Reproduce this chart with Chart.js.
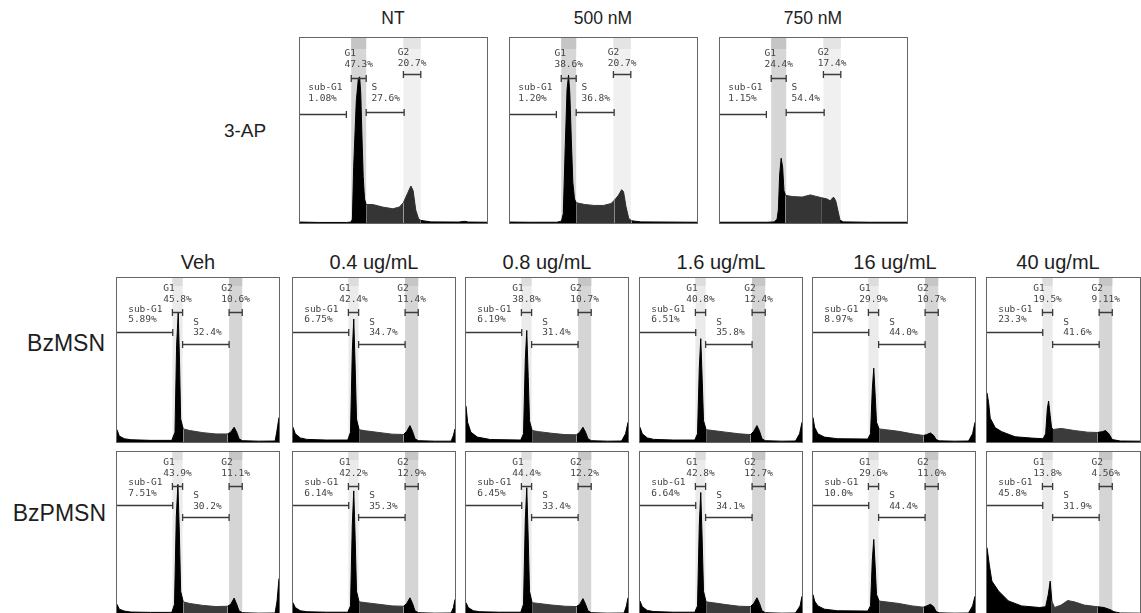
<!DOCTYPE html>
<html>
<head>
<meta charset="utf-8">
<script src="https://cdn.jsdelivr.net/npm/chart.js@4.4.1/dist/chart.umd.min.js"></script>
<style>
  body { margin: 0; width: 1141px; height: 613px; overflow: hidden; background: #fff; position: relative;
         font-family: 'Liberation Sans', Arial, sans-serif; }
  .panel { position: absolute; border: 1px solid #666; box-sizing: border-box; overflow: hidden; background: #fff; }
  .panel canvas { display: block; }
  .lbl { position: absolute; color: #1e1e1e; white-space: nowrap; }
</style>
</head>
<body>
<script>
// titles / labels
const apTitles = ['NT', '500 nM', '750 nM'];
const doseTitles = ['Veh', '0.4 ug/mL', '0.8 ug/mL', '1.6 ug/mL', '16 ug/mL', '40 ug/mL'];
const rowLabels = ['3-AP', 'BzMSN', 'BzPMSN'];
const gateNames = ['sub-G1', 'G1', 'S', 'G2'];

// gate percentages [sub-G1, G1, S, G2]
const apPct = [
  ['1.08%', '47.3%', '27.6%', '20.7%'],
  ['1.20%', '38.6%', '36.8%', '20.7%'],
  ['1.15%', '24.4%', '54.4%', '17.4%'],
];
const bzmsnPct = [
  ['5.89%', '45.8%', '32.4%', '10.6%'],
  ['6.75%', '42.4%', '34.7%', '11.4%'],
  ['6.19%', '38.8%', '31.4%', '10.7%'],
  ['6.51%', '40.8%', '35.8%', '12.4%'],
  ['8.97%', '29.9%', '44.0%', '10.7%'],
  ['23.3%', '19.5%', '41.6%', '9.11%'],
];
const bzpmsnPct = [
  ['7.51%', '43.9%', '30.2%', '11.1%'],
  ['6.14%', '42.2%', '35.3%', '12.9%'],
  ['6.45%', '44.4%', '33.4%', '12.2%'],
  ['6.64%', '42.8%', '34.1%', '12.7%'],
  ['10.0%', '29.6%', '44.4%', '11.0%'],
  ['45.8%', '13.8%', '31.9%', '4.56%'],
];

// DNA content histograms: [channel (0-1000), count (% of panel height)]
const apNT = [[0,0.5],[100,0.3],[250,0.3],[272,0.5],[280,2],[287,30],[301,66],[312,78],[319,79],[325,70],[331,48],[338,25],[345,13],[354,10],[389,10],[442,8.6],[496,7.7],[531,8.6],[553,11],[575,16],[593,20],[605,17.5],[619,7],[634,2.3],[646,1.4],[700,0.6],[850,0.5],[880,0.9],[900,0.5],[1000,0.4]];
const ap500 = [[0,0.5],[100,0.4],[250,0.4],[275,1],[285,5],[295,40],[305,72],[313,80],[320,70],[328,45],[336,22],[345,13],[354,11],[400,10],[450,9.5],[500,9.5],[540,10.5],[560,12.5],[580,15],[597,18],[607,17],[620,9],[635,2.5],[650,1.2],[700,0.6],[1000,0.4]];
const ap750 = [[0,0.4],[250,0.4],[290,0.6],[305,2],[312,7],[319,26],[327,35],[335,30],[342,17.5],[350,15],[386,14.3],[439,14],[483,15.2],[510,14.5],[545,13.6],[572,13],[589,12],[607,14],[619,12],[630,7],[642,1.5],[660,0.6],[800,0.4],[1000,0.4]];

const bzmVeh = [[0,7.5],[14,3.6],[45,2],[85,1.4],[206,1],[338,1],[358,6],[368,59],[378,79],[386,49],[393,14],[409,8],[449,7],[530,5.7],[611,4.9],[682,4.9],[702,6],[723,9],[739,6],[753,2],[773,0.8],[875,0.5],[976,0.6],[986,6],[1000,15]];
const bzm04 = [[0,9],[14,5],[45,2.5],[85,1.6],[206,1.2],[338,1.2],[355,6],[366,55],[375,75],[384,45],[392,14],[408,7.5],[449,6.8],[530,5.8],[611,4.8],[682,4.6],[702,6.5],[722,10],[738,6.5],[753,2],[773,0.8],[875,0.5],[976,0.5],[990,4],[1000,8]];
const bzm08 = [[0,22],[10,12],[30,6],[70,3],[150,1.5],[338,1.2],[355,5],[366,50],[375,68],[384,40],[392,13],[408,7],[449,6.3],[530,5.3],[611,4.5],[682,4.4],[702,6],[722,9],[738,6],[753,2],[773,0.8],[875,0.5],[960,0.6],[985,5],[1000,12]];
const bzm16 = [[0,9],[14,5],[45,2.5],[85,1.6],[206,1.2],[338,1.2],[355,5],[366,45],[375,63],[384,38],[392,13],[408,7.5],[449,7],[530,6],[611,5],[682,4.5],[702,6.5],[722,10],[738,6.5],[753,2],[773,0.8],[875,0.5],[960,0.6],[985,5],[1000,12]];
const bzm160 = [[0,15],[10,9],[30,5],[70,3],[150,2],[338,1.8],[355,5],[366,32],[375,45],[384,28],[392,12],[408,8],[449,7.5],[530,6.5],[611,5],[682,4],[702,4.5],[725,5.5],[745,4],[760,1.5],[780,0.7],[875,0.5],[960,0.6],[985,5],[1000,12]];
const bzm400 = [[0,30],[10,24],[20,14.5],[51,8.7],[91,6.3],[173,3.2],[274,2.4],[346,2],[362,5],[372,20],[380,25],[390,16],[398,9],[407,7.6],[457,8.3],[539,7],[620,6],[681,5.8],[711,6.3],[732,7],[752,5],[773,1.5],[823,0.6],[944,0.5]];

const bzpVeh = [[0,6],[14,3],[45,1.8],[85,1.2],[206,1],[338,1],[355,6],[366,60],[376,80],[385,50],[393,14],[409,7.5],[449,6.5],[530,5.3],[611,4.6],[682,4.8],[702,6],[723,9.8],[739,6],[753,2],[773,0.8],[875,0.5],[976,0.6],[988,8],[1000,22]];
const bzp04 = [[0,7],[14,4],[45,2],[85,1.4],[206,1.1],[338,1.1],[355,5],[366,55],[375,76],[384,46],[392,14],[408,7.5],[449,7],[530,6],[611,5],[682,4.8],[702,6.5],[722,10],[738,6.5],[753,2],[773,0.8],[875,0.5],[976,0.6],[990,4],[1000,9]];
const bzp08 = [[0,7],[14,4],[45,2],[85,1.4],[206,1.1],[338,1.1],[355,6],[366,58],[375,78],[384,47],[392,14],[408,7],[449,6.5],[530,5.5],[611,4.8],[682,4.6],[702,6],[722,9.5],[738,6],[753,2],[773,0.8],[875,0.5],[976,0.6],[990,5],[1000,10]];
const bzp16 = [[0,8],[14,4.5],[45,2.2],[85,1.5],[206,1.1],[338,1.1],[355,5],[366,55],[375,75],[384,45],[392,14],[408,7.5],[449,7],[530,5.8],[611,4.8],[682,4.6],[702,6.5],[722,10],[738,6.5],[753,2],[773,0.8],[875,0.5],[960,0.6],[988,5],[1000,11]];
const bzp160 = [[0,12],[10,8],[30,5],[70,3],[150,2],[338,1.8],[355,5],[366,33],[375,46],[384,29],[392,12],[408,8],[449,7.5],[530,6.5],[611,5],[682,4.2],[702,5],[725,6],[745,4.5],[760,1.5],[780,0.7],[875,0.5],[960,0.6],[985,5],[1000,11]];
const bzp400 = [[0,41],[14,30.5],[30,20.3],[71,14.2],[132,8.1],[213,5],[325,4],[362,4.5],[378,12],[390,20.3],[400,8],[417,4],[457,5.5],[498,8.3],[539,7.5],[600,5.5],[681,4.5],[722,4],[762,2.6],[783,1.4],[823,0.6],[944,0.5]];

// per-row gate layout (x in channels, y in % of panel)
const apStyle = {
  g1: [274, 354], g2: [553, 646], sub: [0, 248], s: [354, 557],
  yB: { sub: 58.9, g1: 78.4, s: 60, g2: 80.5 },
  txt: { sub: [44, 73], g1: 91.6, s: [382, 73], g2: 92.2 }, gap: 11,
  bandG1: ['#d6d6d6', '#c5c5c5'], bandG2: ['#f0f0f0', '#e4e4e4'], strip: 11,
  sColor: '#353535', g2Color: '#2c2c2c'
};
const bzStyle = {
  g1: [342, 405], g2: [692, 773], sub: [0, 344], s: [405, 692],
  yB: { sub: 67.3, g1: 79.1, s: 59.8, g2: 79.1 },
  txt: { sub: [69, 81], g1: 93.3, s: [470, 73], g2: 93.3 }, gap: 10.5,
  bandG1: ['#ebebeb', '#dddddd'], bandG2: ['#d5d5d5', '#c6c6c6'], strip: 8,
  sColor: '#3b3b3b', g2Color: '#000'
};

function addText(txt, x, y, size, align) {
  const d = document.createElement('div');
  d.className = 'lbl';
  d.textContent = txt;
  d.style.fontSize = size + 'px';
  d.style.top = y + 'px';
  if (align === 'right') {
    d.style.right = (1141 - x) + 'px';
    d.style.transform = 'translateY(-50%)';
  } else {
    d.style.left = x + 'px';
    d.style.transform = 'translate(-50%,-50%)';
  }
  document.body.appendChild(d);
}

function regionFill(st, x) {
  if (x < st.g1[1]) return '#000';
  if (x < st.g2[0]) return st.sColor;
  if (x < st.g2[1]) return st.g2Color;
  return '#000';
}

const gatePlugin = {
  id: 'gates',
  beforeDatasetsDraw(chart, args, opts) {
    const st = opts.st;
    const { ctx, chartArea: a, scales: { x } } = chart;
    const band = (r, cols) => {
      const x0 = x.getPixelForValue(r[0]), x1 = x.getPixelForValue(r[1]);
      ctx.fillStyle = cols[0];
      ctx.fillRect(x0, a.top, x1 - x0, a.bottom - a.top);
      ctx.fillStyle = cols[1];
      ctx.fillRect(x0, a.top, x1 - x0, st.strip);
    };
    ctx.save();
    band(st.g1, st.bandG1);
    band(st.g2, st.bandG2);
    ctx.restore();
  },
  afterDatasetsDraw(chart, args, opts) {
    const st = opts.st, pct = opts.pct;
    const { ctx, scales: { x, y } } = chart;
    ctx.save();
    ctx.strokeStyle = '#3a3a3a';
    ctx.fillStyle = '#444';
    ctx.lineWidth = 1.3;
    const bracket = (r, yv, leftTick) => {
      const x0 = x.getPixelForValue(r[0]), x1 = x.getPixelForValue(r[1]);
      const py = Math.round(y.getPixelForValue(yv)) + 0.5;
      ctx.beginPath();
      ctx.moveTo(x0, py); ctx.lineTo(x1, py);
      if (leftTick) { ctx.moveTo(x0, py - 3.5); ctx.lineTo(x0, py + 3.5); }
      ctx.moveTo(x1, py - 3.5); ctx.lineTo(x1, py + 3.5);
      ctx.stroke();
    };
    bracket(st.sub, st.yB.sub, false);
    bracket(st.g1, st.yB.g1, true);
    bracket(st.s, st.yB.s, true);
    bracket(st.g2, st.yB.g2, true);

    ctx.font = '9.5px "DejaVu Sans Mono", monospace';
    ctx.textBaseline = 'middle';
    ctx.textAlign = 'left';
    const two = (px, yv, a, b) => {
      const py = y.getPixelForValue(yv);
      ctx.fillText(a, px, py);
      ctx.fillText(b, px, py + st.gap);
    };
    two(x.getPixelForValue(st.txt.sub[0]), st.txt.sub[1], gateNames[0], pct[0]);
    two(x.getPixelForValue(st.txt.s[0]), st.txt.s[1], gateNames[2], pct[2]);
    const centred = (r, yv, name, p) => {
      const c = (x.getPixelForValue(r[0]) + x.getPixelForValue(r[1])) / 2;
      two(c - ctx.measureText(p).width / 2, yv, name, p);
    };
    centred(st.g1, st.txt.g1, gateNames[1], pct[1]);
    centred(st.g2, st.txt.g2, gateNames[3], pct[3]);
    ctx.restore();
  }
};

function makePanel(left, top, w, h, hist, pct, st, xMax) {
  const div = document.createElement('div');
  div.className = 'panel';
  Object.assign(div.style, { left: left + 'px', top: top + 'px', width: w + 'px', height: h + 'px' });
  const cv = document.createElement('canvas');
  cv.width = w - 2;
  cv.height = h - 2;
  div.appendChild(cv);
  document.body.appendChild(div);

  new Chart(cv, {
    type: 'line',
    data: {
      datasets: [{
        data: hist.map(p => ({ x: p[0], y: p[1] })),
        fill: 'origin',
        pointRadius: 0,
        borderWidth: 1,
        tension: 0,
        segment: {
          backgroundColor: c => regionFill(st, (c.p0.parsed.x + c.p1.parsed.x) / 2),
          borderColor: c => regionFill(st, (c.p0.parsed.x + c.p1.parsed.x) / 2)
        }
      }]
    },
    options: {
      responsive: false,
      animation: false,
      events: [],
      layout: { padding: 0 },
      scales: {
        x: { type: 'linear', min: 0, max: xMax, display: false },
        y: { min: 0, max: 100, display: false }
      },
      plugins: {
        legend: { display: false },
        tooltip: { enabled: false },
        gates: { st: st, pct: pct }
      }
    },
    plugins: [gatePlugin]
  });
}

// 3-AP row
const apHists = [apNT, ap500, ap750];
[299, 509, 719].forEach((l, i) => makePanel(l, 37, 189, 187, apHists[i], apPct[i], apStyle, 1000));
[393, 603, 813].forEach((cx, i) => addText(apTitles[i], cx, 18, 17.5));

// BzMSN / BzPMSN rows
const bzmHists = [bzmVeh, bzm04, bzm08, bzm16, bzm160, bzm400];
const bzpHists = [bzpVeh, bzp04, bzp08, bzp16, bzp160, bzp400];
const lefts = [116, 292, 465, 639, 812, 986];
lefts.forEach((l, i) => {
  const w = i === 5 ? 155 : 164;
  const xMax = i === 5 ? 944 : 1000;
  makePanel(l, 277, w, 166, bzmHists[i], bzmsnPct[i], bzStyle, xMax);
  makePanel(l, 451, w, 164, bzpHists[i], bzpmsnPct[i], bzStyle, xMax);
});
[198, 374, 547, 721, 895, 1058].forEach((cx, i) => addText(doseTitles[i], cx, 262, 20));

addText(rowLabels[0], 245, 131, 19);
addText(rowLabels[1], 105, 343, 23, 'right');
addText(rowLabels[2], 106, 513, 23, 'right');
</script>
</body>
</html>
